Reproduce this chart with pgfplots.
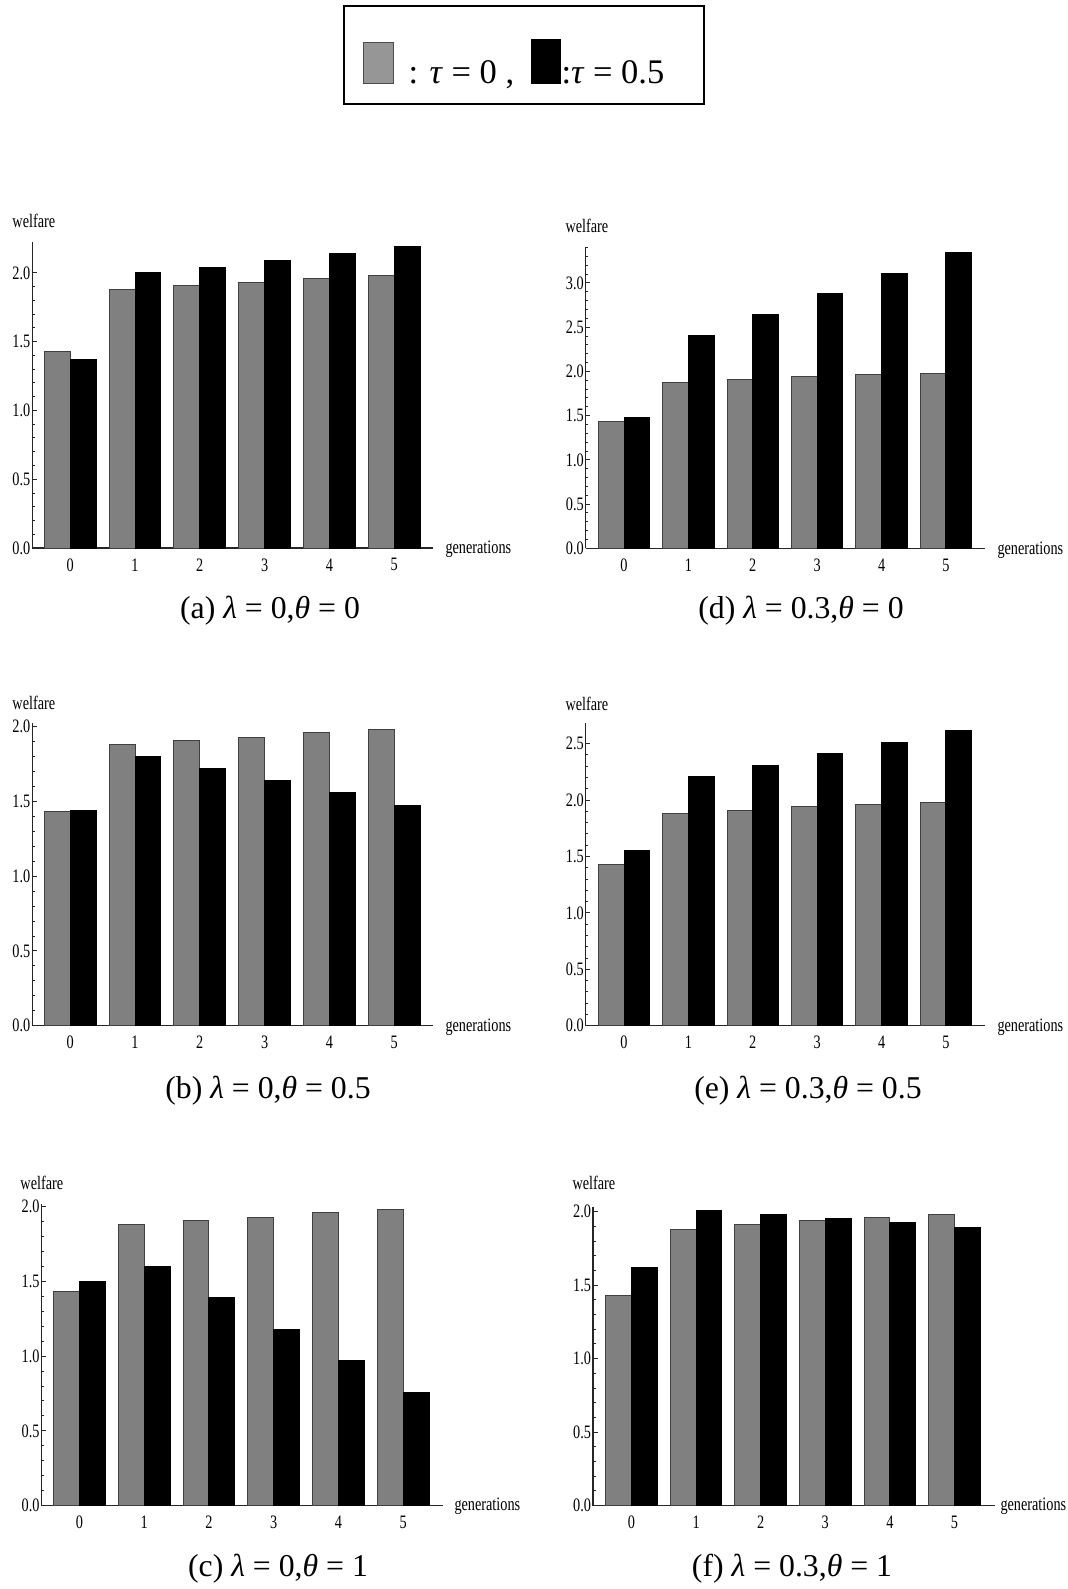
\documentclass[border=0pt]{standalone}
\usepackage{fontspec}
\setmainfont{Liberation Serif}
\newfontfamily\condfont[FakeStretch=0.75]{Liberation Serif}
\usepackage{pgfplots}
\usepackage{pgfplotstable}
\pgfplotsset{compat=1.18}
\newcommand{\tickfont}{\condfont\fontsize{7.6}{9}\selectfont}
\newcommand{\capfont}{\fontsize{12.7}{14}\selectfont}
\definecolor{barg}{RGB}{128,128,128}
\definecolor{legg}{RGB}{150,150,150}

% columns: generation, tau=0 (gray), tau=0.5 (black)
\pgfplotstableread{
x g b
0 1.43 1.37
1 1.88 2.00
2 1.91 2.04
3 1.93 2.09
4 1.96 2.14
5 1.98 2.19
}\dataA
\pgfplotstableread{
x g b
0 1.43 1.44
1 1.88 1.80
2 1.91 1.72
3 1.93 1.64
4 1.96 1.56
5 1.98 1.47
}\dataB
\pgfplotstableread{
x g b
0 1.43 1.50
1 1.88 1.60
2 1.91 1.39
3 1.93 1.18
4 1.96 0.97
5 1.98 0.755
}\dataC
\pgfplotstableread{
x g b
0 1.43 1.48
1 1.88 2.41
2 1.91 2.645
3 1.94 2.88
4 1.96 3.11
5 1.98 3.34
}\dataD
\pgfplotstableread{
x g b
0 1.43 1.55
1 1.88 2.21
2 1.91 2.31
3 1.94 2.41
4 1.96 2.51
5 1.98 2.62
}\dataE
\pgfplotstableread{
x g b
0 1.43 1.62
1 1.88 2.01
2 1.91 1.98
3 1.94 1.955
4 1.96 1.925
5 1.98 1.895
}\dataF

\pgfplotsset{
  welf/.style={
    scale only axis, anchor=south west,
    ymin=0, xmin=-0.59, xmax=5.61,
    axis lines=left,
    x axis line style={-}, y axis line style={-},
    axis line style={line width=0.5pt, draw=black!85},
    xtick={0,1,2,3,4,5},
    x tick style={draw=none},
    ytick distance=0.5, minor y tick num=4,
    tick align=inside,
    major tick length=1.8pt, minor tick length=1.1pt,
    y tick style={line width=0.4pt, draw=black!85},
    /pgf/number format/assume math mode=true,
    yticklabel style={/pgf/number format/.cd, fixed, fixed zerofill, precision=1, /tikz/.cd, inner sep=0.6pt, font=\tickfont},
    xticklabel style={font=\tickfont, inner sep=0.6pt, yshift=-1.6pt},
    ybar, bar width=0.4,
    clip=false,
  }
}
\newcommand{\bars}[1]{%
  \addplot[fill=barg, draw=black!75, line width=0.4pt, bar shift=-0.2] table[x=x,y=g]{#1};
  \addplot[fill=black, draw=black, line width=0.4pt, bar shift=0.2] table[x=x,y=b]{#1};
}

\begin{document}
\begin{tikzpicture}
\begin{scope}[x=0.4pt,y=-0.4pt]
  \path[use as bounding box, fill=white] (0,0) rectangle (1068,1589);
\end{scope}

% (a)
\begin{axis}[welf, at={(12.92pt,-219.2pt)}, width=160.28pt, height=122.4pt, ymax=2.225, xmin=-0.586, xmax=5.60]
\bars{\dataA}
\end{axis}
% (d)
\begin{axis}[welf, at={(234.28pt,-219.32pt)}, width=159.72pt, height=120.64pt, ymax=3.41, xmin=-0.595, xmax=5.606]
\bars{\dataD}
\end{axis}
% (b)
\begin{axis}[welf, at={(12.92pt,-410.28pt)}, width=160.28pt, height=120.96pt, ymax=2.023, xmin=-0.586, xmax=5.60]
\bars{\dataB}
\end{axis}
% (e)
\begin{axis}[welf, at={(234.28pt,-410.28pt)}, width=159.72pt, height=120.96pt, ymax=2.68, xmin=-0.595, xmax=5.606]
\bars{\dataE}
\end{axis}
% (c)
\begin{axis}[welf, at={(16.6pt,-602.2pt)}, width=160.44pt, height=120.48pt, ymax=2.016, xmin=-0.586, xmax=5.61]
\bars{\dataC}
\end{axis}
% (f)
\begin{axis}[welf, at={(237.2pt,-602.2pt)}, width=160.8pt, height=119.52pt, ymax=2.034, xmin=-0.596, xmax=5.627]
\bars{\dataF}
\end{axis}

\begin{scope}[x=0.4pt,y=-0.4pt]
  % axis labels
  \foreach \px/\py in {12/221, 565/226, 12/703, 565/704, 20/1183, 572/1183}
    \node[anchor=west, inner sep=0pt, font=\tickfont] at (\px,\py) {welfare};
  \foreach \px/\py in {445/549, 997/550, 445/1027, 997/1027, 454/1506, 1000/1506}
    \node[anchor=west, inner sep=0pt, font=\tickfont] at (\px,\py) {generations};
  % captions
  \node[font=\capfont, inner sep=0pt] at (270,611) {(a) \textit{λ} = 0,\textit{θ} = 0};
  \node[font=\capfont, inner sep=0pt] at (801,611) {(d) \textit{λ} = 0.3,\textit{θ} = 0};
  \node[font=\capfont, inner sep=0pt] at (268,1091) {(b) \textit{λ} = 0,\textit{θ} = 0.5};
  \node[font=\capfont, inner sep=0pt] at (808,1091) {(e) \textit{λ} = 0.3,\textit{θ} = 0.5};
  \node[font=\capfont, inner sep=0pt] at (278,1569) {(c) \textit{λ} = 0,\textit{θ} = 1};
  \node[font=\capfont, inner sep=0pt] at (792,1569) {(f) \textit{λ} = 0.3,\textit{θ} = 1};
  % legend box
  \draw[line width=0.8pt] (344,6) rectangle (704,104);
  \draw[fill=legg, draw=black!70, line width=0.4pt] (363,42) rectangle (393,83);
  \node[anchor=base west, inner sep=0pt, font=\fontsize{13.8}{16}\selectfont] at (408,83) {: \textit{τ} = 0};
  \node[anchor=base west, inner sep=0pt, font=\fontsize{13.8}{16}\selectfont] at (505,83) {,};
  \draw[fill=black, draw=black, line width=0.4pt] (531,39) rectangle (560,83);
  \node[anchor=base west, inner sep=0pt, font=\fontsize{13.8}{16}\selectfont] at (561,83) {:\textit{τ} = 0.5};
\end{scope}
\end{tikzpicture}
\end{document}
